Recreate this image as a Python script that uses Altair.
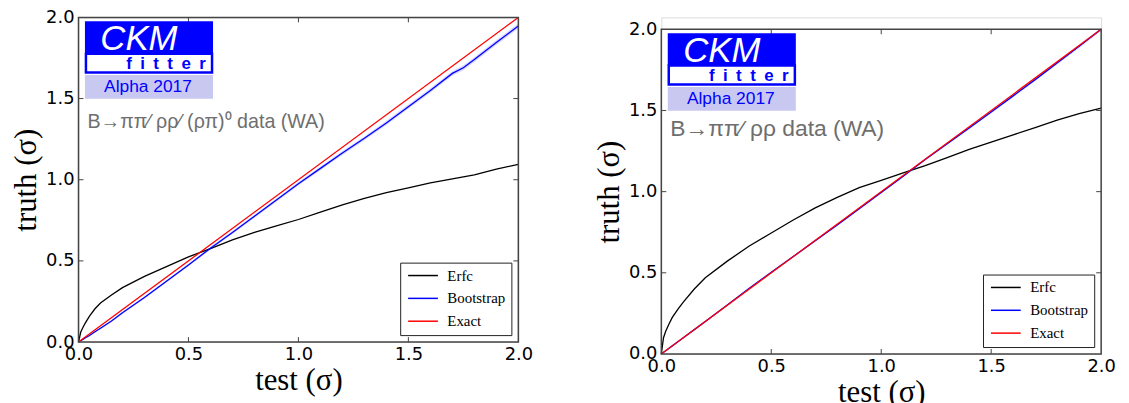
import altair as alt
import pandas as pd

# ---------------- data ----------------
t_left = [0.0, 0.01, 0.02, 0.03, 0.05, 0.075, 0.1, 0.15, 0.2, 0.3, 0.4, 0.5, 0.6, 0.7, 0.8,
          0.9, 1.0, 1.1, 1.2, 1.3, 1.4, 1.5, 1.6, 1.7, 1.75, 1.8, 1.9, 2.0]
left_erfc = [0.0, 0.06, 0.09, 0.115, 0.16, 0.205, 0.24, 0.29, 0.335, 0.405, 0.465, 0.525,
             0.575, 0.63, 0.675, 0.715, 0.755, 0.80, 0.845, 0.885, 0.92, 0.95, 0.98, 1.005,
             1.018, 1.03, 1.065, 1.095]
left_boot = [0.0, 0.008, 0.016, 0.025, 0.04, 0.063, 0.085, 0.13, 0.18, 0.275, 0.375, 0.475,
             0.578, 0.675, 0.775, 0.875, 0.975, 1.07, 1.165, 1.255, 1.35, 1.45, 1.55, 1.655,
             1.69, 1.74, 1.845, 1.947]
left_boot_err = [0.0, 0.003, 0.004, 0.004, 0.005, 0.005, 0.006, 0.006, 0.007, 0.007, 0.008, 0.008,
                 0.009, 0.009, 0.01, 0.01, 0.011, 0.011, 0.012, 0.012, 0.013, 0.013, 0.014, 0.014,
                 0.015, 0.015, 0.015, 0.016]

t_right = [0.0, 0.01, 0.02, 0.035, 0.05, 0.075, 0.1, 0.15, 0.2, 0.3, 0.4, 0.5, 0.6, 0.7, 0.8,
           0.9, 1.0, 1.1, 1.2, 1.3, 1.4, 1.5, 1.6, 1.7, 1.8, 1.9, 2.0]
right_erfc = [0.0, 0.10, 0.14, 0.185, 0.225, 0.275, 0.32, 0.40, 0.47, 0.572, 0.665, 0.745,
              0.825, 0.9, 0.965, 1.025, 1.07, 1.115, 1.16, 1.21, 1.26, 1.305, 1.35, 1.395,
              1.44, 1.48, 1.515]
right_boot = [0.0, 0.01, 0.02, 0.035, 0.05, 0.075, 0.1, 0.15, 0.2, 0.302, 0.405, 0.503,
              0.6, 0.698, 0.795, 0.895, 0.995, 1.095, 1.198, 1.295, 1.392, 1.49, 1.59, 1.69,
              1.793, 1.895, 2.0]
right_boot_err = [0.0, 0.002, 0.002, 0.003, 0.003, 0.003, 0.003, 0.004, 0.004, 0.004, 0.005, 0.005,
                  0.005, 0.006, 0.006, 0.006, 0.007, 0.007, 0.007, 0.008, 0.008, 0.008, 0.009,
                  0.009, 0.009, 0.01, 0.01]

exact_t = [0.0, 2.0]
exact_v = [0.0, 2.0]

series_names = ["Erfc", "Bootstrap", "Exact"]
series_colors = ["#000000", "#0000ff", "#ff0000"]
tick_values = [0.0, 0.5, 1.0, 1.5, 2.0]
inner_ticks = [0.5, 1.0, 1.5]

left_subtitle = "B→ππ⁄ ρρ⁄ (ρπ)⁰ data (WA)"
right_subtitle = "B→ππ⁄ ρρ data (WA)"
logo_top = "CKM"
logo_mid = "\u2002".join("fitter")   # letter-spaced "fitter"
logo_bottom = "Alpha 2017"

W, H = 443, 327
FRAME = "#444444"


def panel(tt, erfc, boot, boot_err, subtitle, sub_size, sub_y, top):
    rows = []
    for x, y in zip(tt, erfc):
        rows.append({"x": x, "y": y, "series": "Erfc"})
    for x, y in zip(tt, boot):
        rows.append({"x": x, "y": y, "series": "Bootstrap"})
    for x, y in zip(exact_t, exact_v):
        rows.append({"x": x, "y": y, "series": "Exact"})
    lines_df = pd.DataFrame(rows)
    band_df = pd.DataFrame({
        "x": tt,
        "lo": [b - e for b, e in zip(boot, boot_err)],
        "hi": [b + e for b, e in zip(boot, boot_err)],
    })

    VH = H + top  # view height; the plot box occupies [top, VH]
    xs = alt.Scale(domain=[0, 2], nice=False, zero=False)
    ys = alt.Scale(domain=[0, 2], nice=False, zero=False, range=[VH, top])
    x_axis = alt.Axis(values=tick_values, format=".1f", title="test (σ)",
                      labelFlush=False, labelFont="DejaVu Sans", labelFontSize=18,
                      labelColor="black", labelPadding=4, ticks=False, domain=False,
                      grid=False, titleFont="Liberation Serif", titleFontSize=31,
                      titleFontWeight="normal", titleColor="black", titlePadding=2)
    y_axis = alt.Axis(values=tick_values, format=".1f", title="truth (σ)",
                      labelFlush=False, labelFont="DejaVu Sans", labelFontSize=18,
                      labelColor="black", labelPadding=4.5, ticks=False, domain=False,
                      grid=False, titleFont="Liberation Serif", titleFontSize=31,
                      titleFontWeight="normal", titleColor="black", titlePadding=3)

    band = alt.Chart(band_df).mark_area(color="#8c8cff", opacity=0.35).encode(
        x=alt.X("x:Q", scale=xs, axis=x_axis),
        y=alt.Y("lo:Q", scale=ys, axis=y_axis),
        y2="hi:Q",
    )
    lines = alt.Chart(lines_df).mark_line(strokeWidth=1.3).encode(
        x=alt.X("x:Q", scale=xs),
        y=alt.Y("y:Q", scale=ys),
        color=alt.Color(
            "series:N",
            scale=alt.Scale(domain=series_names, range=series_colors),
            sort=series_names,
            legend=alt.Legend(
                title=None, orient="bottom-right", offset=7,
                symbolType="M-3,0H3", symbolSize=100, symbolOffset=10,
                symbolStrokeWidth=1.5, labelOffset=17,
                labelFont="Liberation Serif", labelFontSize=15, labelColor="black",
                rowPadding=7, padding=5.5, strokeColor="#222222",
                fillColor="white", cornerRadius=0,
            ),
        ),
        order=alt.Order("series:N"),
    )

    one = pd.DataFrame({"k": [0]})
    frame = alt.Chart(one).mark_rect(fill="transparent", stroke=FRAME, strokeWidth=1.5).encode(
        x=alt.value(0), x2=alt.value(W), y=alt.value(top), y2=alt.value(VH))

    tdf = pd.DataFrame({"v": inner_ticks})
    tick_b = alt.Chart(tdf).mark_rule(color=FRAME, strokeWidth=1).encode(
        x=alt.X("v:Q", scale=xs), y=alt.value(VH), y2=alt.value(VH - 5))
    tick_t = alt.Chart(tdf).mark_rule(color=FRAME, strokeWidth=1).encode(
        x=alt.X("v:Q", scale=xs), y=alt.value(top), y2=alt.value(top + 5))
    tick_l = alt.Chart(tdf).mark_rule(color=FRAME, strokeWidth=1).encode(
        y=alt.Y("v:Q", scale=ys), x=alt.value(0), x2=alt.value(5))
    tick_r = alt.Chart(tdf).mark_rule(color=FRAME, strokeWidth=1).encode(
        y=alt.Y("v:Q", scale=ys), x=alt.value(W), x2=alt.value(W - 5))

    blue_box = alt.Chart(one).mark_rect(color="#0000ff").encode(
        x=alt.value(6.5), x2=alt.value(135.5), y=alt.value(top + 4), y2=alt.value(top + 36.5))
    white_box = alt.Chart(one).mark_rect(fill="white", stroke="#0000ff", strokeWidth=2.5).encode(
        x=alt.value(7.5), x2=alt.value(134.5), y=alt.value(top + 36.5), y2=alt.value(top + 55.5))
    lav_box = alt.Chart(one).mark_rect(color="#c8c8f0").encode(
        x=alt.value(6.5), x2=alt.value(135.5), y=alt.value(top + 58), y2=alt.value(top + 82))
    ckm = alt.Chart(one).mark_text(text=logo_top, color="white", font="Liberation Sans",
                                   fontStyle="italic", fontSize=35, align="left",
                                   baseline="alphabetic").encode(
        x=alt.value(22), y=alt.value(top + 33))
    fitter = alt.Chart(one).mark_text(text=logo_mid, color="#0000ff", font="Liberation Sans",
                                      fontWeight="bold", fontSize=17, align="left",
                                      baseline="alphabetic").encode(
        x=alt.value(48), y=alt.value(top + 52))
    alpha = alt.Chart(one).mark_text(text=logo_bottom, color="#0000ff", font="Liberation Sans",
                                     fontSize=17.5, align="center",
                                     baseline="alphabetic").encode(
        x=alt.value(70), y=alt.value(top + 75))
    sub = alt.Chart(one).mark_text(text=subtitle, color="#6e6e6e", font="Liberation Sans",
                                   fontSize=sub_size, align="left",
                                   baseline="alphabetic").encode(
        x=alt.value(9), y=alt.value(top + sub_y))

    layered = alt.layer(band, lines, frame, tick_b, tick_t, tick_l, tick_r,
                        blue_box, white_box, lav_box, ckm, fitter, alpha, sub)
    return layered.properties(width=W, height=VH)


left = panel(t_left, left_erfc, left_boot, left_boot_err, left_subtitle, 19.8, 111, 0)
right = panel(t_right, right_erfc, right_boot, right_boot_err, right_subtitle, 23, 107, 12)

chart = alt.hconcat(left, right, spacing=60).resolve_scale(
    color="independent", x="independent", y="independent"
).resolve_legend(color="independent").properties(
    padding={"left": 2, "top": -2, "right": 5, "bottom": 5}
).configure_view(
    strokeWidth=0
).configure(background="white")

chart.save("out.html", embed_options={"renderer": "svg", "actions": False})
